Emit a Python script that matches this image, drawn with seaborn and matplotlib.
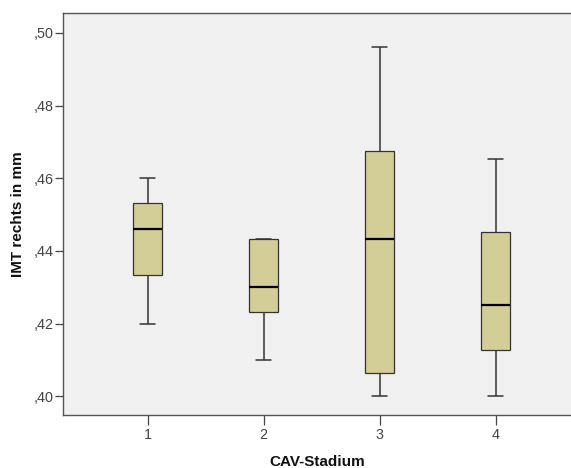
import matplotlib
matplotlib.use("Agg")
import matplotlib.pyplot as plt
from matplotlib.ticker import FuncFormatter, FixedLocator
import seaborn as sns
import pandas as pd

# Five-number summaries (min, Q1, median, Q3, max)
stadium_1 = [0.420, 0.4333, 0.4461, 0.4533, 0.460]
stadium_2 = [0.410, 0.4231, 0.4300, 0.4432, 0.4432]
stadium_3 = [0.400, 0.4063, 0.4432, 0.4676, 0.4961]
stadium_4 = [0.400, 0.4127, 0.4252, 0.4452, 0.4652]
categories = ["1", "2", "3", "4"]
y_ticks = [0.40, 0.42, 0.44, 0.46, 0.48, 0.50]

rows = []
for cat, vals in zip(categories, [stadium_1, stadium_2, stadium_3, stadium_4]):
    for v in vals:
        rows.append({"CAV-Stadium": cat, "IMT": v})
df = pd.DataFrame(rows)

sns.set_style("white")
plt.rcParams["font.family"] = ["Liberation Sans", "DejaVu Sans"]

fig = plt.figure(figsize=(5.71, 4.68), dpi=100)
ax = fig.add_axes([0.110, 0.1132, 0.890, 0.859])
ax.set_facecolor("#F0F0F0")

edge = "#333333"
sns.boxplot(
    data=df, x="CAV-Stadium", y="IMT", order=categories, ax=ax,
    color="#D3CE97", width=0.252, whis=1.5, saturation=1,
    linecolor=edge, linewidth=0.9,
    boxprops=dict(facecolor="#D3CE97", edgecolor=edge, linewidth=0.9),
    medianprops=dict(color="black", linewidth=1.6),
    whiskerprops=dict(color=edge, linewidth=1.1),
    capprops=dict(color=edge, linewidth=1.1),
    capwidths=0.127,
    showfliers=False,
)

ax.set_xlim(-0.73, 3.65)
ax.set_ylim(0.3948, 0.5055)
ax.yaxis.set_major_locator(FixedLocator(y_ticks))
ax.yaxis.set_major_formatter(FuncFormatter(lambda v, p: ("%.2f" % v)[1:].replace(".", ",")))

for s in ["left", "bottom", "top"]:
    ax.spines[s].set_visible(True)
    ax.spines[s].set_color("#555555")
    ax.spines[s].set_linewidth(1.0)
ax.spines["right"].set_visible(False)

ax.tick_params(axis="y", direction="out", length=6, width=0.9, color="#444444",
               labelsize=10.4, labelcolor="#444444", pad=0.5, left=True)
ax.tick_params(axis="x", direction="out", length=7, width=0.9, color="#444444",
               labelsize=10.4, labelcolor="#444444", pad=2.5, bottom=True)

ax.set_ylabel("IMT rechts in mm", fontsize=11, fontweight="bold", color="#111111", labelpad=6)
ax.set_xlabel("CAV-Stadium", fontsize=11, fontweight="bold", color="#111111", labelpad=9)

fig.savefig("out.png", dpi=100, facecolor="white")
